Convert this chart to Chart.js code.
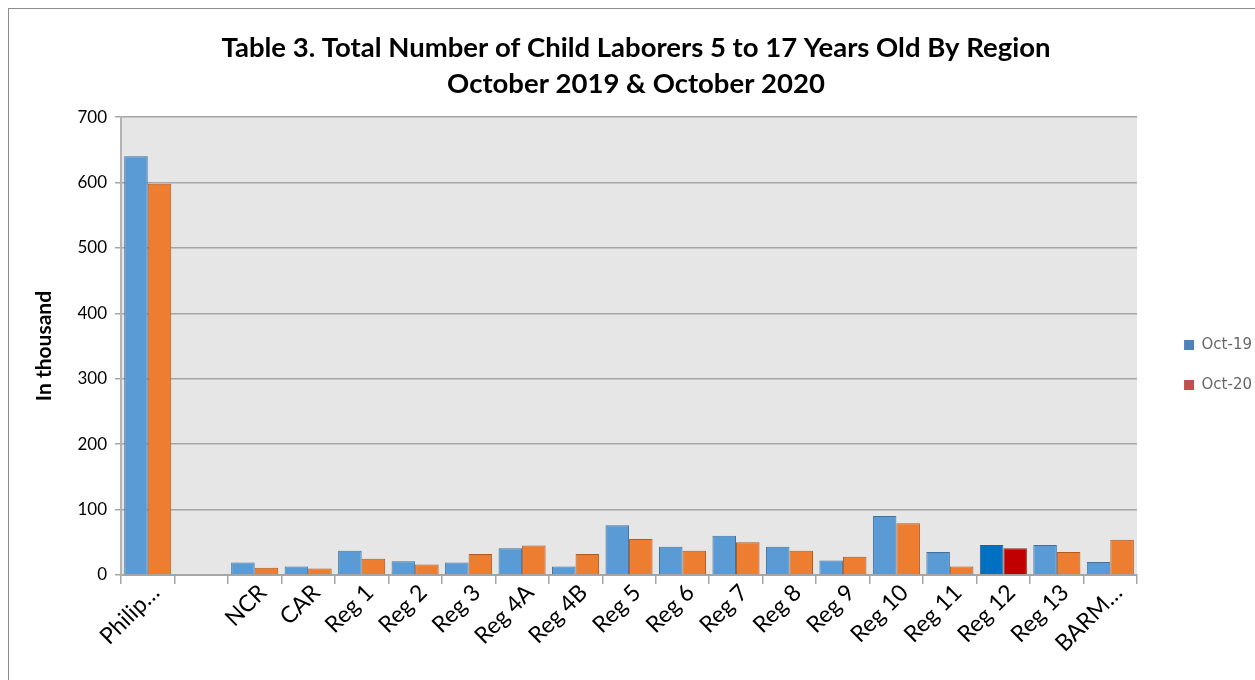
<!DOCTYPE html>
<html>
<head>
<meta charset="utf-8">
<title>Child Laborers by Region</title>
<script src="https://cdn.jsdelivr.net/npm/chart.js@4.4.1/dist/chart.umd.min.js"></script>
<style>
  html, body { margin: 0; padding: 0; overflow: hidden; background: #fff; }
  #frame {
    position: absolute; left: 8px; top: 8px;
    width: 1400px; height: 800px;
    border-top: 1px solid #8c8c8c; border-left: 1px solid #8c8c8c;
  }
  #wrap { position: absolute; left: 0; top: 0; width: 1255px; height: 680px; }
</style>
</head>
<body>
<div id="frame"></div>
<div id="wrap"><canvas id="mychart"></canvas></div>
<script>
// regions (blank slot after the national total, as in the original sheet)
var regions = ['Philippines', '', 'NCR', 'CAR', 'Reg 1', 'Reg 2', 'Reg 3', 'Reg 4A', 'Reg 4B',
    'Reg 5', 'Reg 6', 'Reg 7', 'Reg 8', 'Reg 9', 'Reg 10', 'Reg 11', 'Reg 12', 'Reg 13', 'BARMM'];

// in thousand
var oct19 = [640, null, 19, 13, 37, 21, 19, 41, 13, 76, 43, 60, 43, 22, 90, 35, 46, 46, 20];
var oct20 = [598, null, 11, 10, 25, 16, 32, 45, 32, 55, 37, 50, 37, 28, 79, 13, 41, 35, 54];

var seriesNames = ['Oct-19', 'Oct-20'];
var yTicks = [0, 100, 200, 300, 400, 500, 600, 700];

// Reg 12 is drawn in darker colours in the source chart
var special = regions.indexOf('Reg 12');
var blueFill = regions.map(function (r, i) { return i === special ? '#0070C0' : '#5B9BD5'; });
var orangeFill = regions.map(function (r, i) { return i === special ? '#C00000' : '#ED7D31'; });
var blueLine = regions.map(function (r, i) { return i === special ? '#2F5F8F' : '#41719C'; });
var orangeLine = regions.map(function (r, i) { return i === special ? '#8B2A1E' : '#AE5A21'; });
var legendColors = ['#4F81BD', '#C0504D'];

// grey plot area like excel
var plotBg = {
    id: 'plotBg',
    beforeDraw: function (chart) {
        var a = chart.chartArea;
        var ctx = chart.ctx;
        ctx.save();
        ctx.fillStyle = '#E6E6E6';
        ctx.fillRect(a.left, a.top, a.right - a.left, a.bottom - a.top);
        ctx.restore();
    }
};

// push the legend a bit to the right, away from the plot
var legendShift = {
    id: 'legendShift',
    afterLayout: function (chart) {
        if (chart.legend) {
            chart.legend.left += 22;
            chart.legend.right += 22;
        }
    }
};

var ctx = document.getElementById('mychart');
var chart = new Chart(ctx, {
    type: 'bar',
    data: {
        labels: regions,
        datasets: [{
            label: seriesNames[0],
            data: oct19,
            backgroundColor: blueFill,
            borderColor: blueLine,
            borderWidth: 1
        }, {
            label: seriesNames[1],
            data: oct20,
            backgroundColor: orangeFill,
            borderColor: orangeLine,
            borderWidth: 1
        }]
    },
    plugins: [plotBg, legendShift],
    options: {
        responsive: true,
        maintainAspectRatio: false,
        animation: false,
        layout: { padding: { left: 32, right: 15, top: 0, bottom: 0 } },
        datasets: { bar: { categoryPercentage: 0.88, barPercentage: 1.0 } },
        plugins: {
            title: {
                display: true,
                text: ['Table 3. Total Number of Child Laborers 5 to 17 Years Old By Region',
                       'October 2019 & October 2020'],
                color: '#000',
                font: { family: 'Lato', size: 27.5, weight: 'bold', lineHeight: 1.31 },
                padding: { top: 30, bottom: 15 }
            },
            legend: {
                position: 'right',
                title: {
                    display: true,
                    text: ' ',
                    font: { size: 10, lineHeight: 1 },
                    padding: { top: 40, bottom: 0 }
                },
                labels: {
                    font: { family: 'DejaVu Sans', size: 15 },
                    color: '#000',
                    boxWidth: 10,
                    boxHeight: 10,
                    padding: 25,
                    generateLabels: function (chart) {
                        return chart.data.datasets.map(function (ds, i) {
                            return {
                                text: ds.label,
                                fillStyle: legendColors[i],
                                strokeStyle: legendColors[i],
                                lineWidth: 0,
                                datasetIndex: i
                            };
                        });
                    }
                }
            },
            tooltip: { enabled: false }
        },
        scales: {
            x: {
                grid: {
                    display: true,
                    offset: true,
                    drawOnChartArea: false,
                    drawTicks: true,
                    tickLength: 9,
                    color: '#A6A6A6',
                    lineWidth: 1.5
                },
                border: { display: true, color: '#A6A6A6', width: 2 },
                ticks: {
                    autoSkip: false,
                    minRotation: 45,
                    maxRotation: 45,
                    color: '#000',
                    padding: -5,
                    labelOffset: 8,
                    font: { family: 'Lato', size: 23 },
                    callback: function (v, i) {
                        var s = regions[i];
                        if (s === 'Philippines') return 'Philip…';
                        if (s === 'BARMM') return 'BARM…';
                        return s;
                    }
                },
                afterFit: function (s) { s.height = 105; }
            },
            y: {
                min: 0,
                max: 700,
                afterBuildTicks: function (s) {
                    s.ticks = yTicks.map(function (v) { return { value: v }; });
                },
                grid: {
                    color: '#A6A6A6',
                    lineWidth: 1.5,
                    tickLength: 6
                },
                border: { display: true, color: '#B4B4B4', width: 2 },
                ticks: {
                    color: '#000',
                    padding: 8,
                    font: { family: 'Lato', size: 17 }
                },
                title: {
                    display: true,
                    text: 'In thousand',
                    color: '#000',
                    font: { family: 'Lato', size: 21, weight: 'bold' },
                    padding: { top: 0, bottom: 14 }
                },
                afterFit: function (s) { s.width = 89; }
            }
        }
    }
});
</script>
</body>
</html>
